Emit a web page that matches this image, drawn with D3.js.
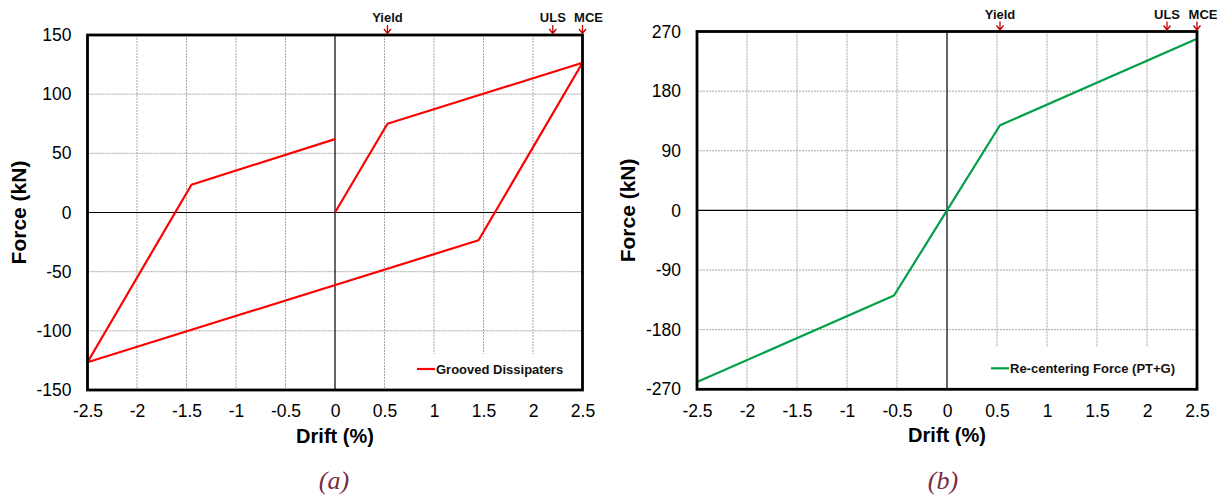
<!DOCTYPE html>
<html>
<head>
<meta charset="utf-8">
<script src="https://cdn.jsdelivr.net/npm/d3@7"></script>
<style>
  html, body { margin: 0; padding: 0; background: #fff; }
  svg { display: block; }
  text { font-family: "Liberation Sans", Arial, sans-serif; }
  text.caption { font-family: "Liberation Serif", "Times New Roman", serif; font-style: italic; }
</style>
</head>
<body>
<svg id="chart" width="1221" height="498"></svg>
<script>
// ---------- data ----------
const driftTicks = [-2.5, -2, -1.5, -1, -0.5, 0, 0.5, 1, 1.5, 2, 2.5];
const forceTicksA = [-150, -100, -50, 0, 50, 100, 150];
const forceTicksB = [-270, -180, -90, 0, 90, 180, 270];

const grooveDrift = [0, 0.53, 2.5, 1.45, -2.5, -1.45, 0];
const grooveForce = [0, 75, 126.5, -23.5, -126.5, 23.5, 62];

const recenterDrift = [-2.5, -0.53, 0, 0.53, 2.5];
const recenterForce = [-259, -128.5, 0, 128.5, 259];

const markerNames = ["Yield", "ULS", "MCE"];
const markerDrift = [0.53, 2.2, 2.5];

const seriesNameA = "Grooved Dissipaters";
const seriesNameB = "Re-centering Force (PT+G)";
const captions = ["(a)", "(b)"];

// ---------- drawing ----------
const svg = d3.select("#chart");

function panel(opts) {
  const { left, right, top, bottom, yTicks, xs, ys, color, name, caption, legendLeft, legendTop } = opts;
  const x = d3.scaleLinear().domain([-2.5, 2.5]).range([left, right]);
  const y = d3.scaleLinear().domain([yTicks[0], yTicks[yTicks.length - 1]]).range([bottom, top]);
  const g = svg.append("g");

  // grid
  g.append("g").selectAll("line").data(driftTicks.filter(d => d !== 0 && Math.abs(d) !== 2.5))
    .join("line")
    .attr("x1", d => x(d)).attr("x2", d => x(d))
    .attr("y1", top).attr("y2", bottom)
    .attr("stroke", "#a6a6a6").attr("stroke-width", 1).attr("stroke-dasharray", "2,1");
  g.append("g").selectAll("line").data(yTicks.filter((d, i) => d !== 0 && i > 0 && i < yTicks.length - 1))
    .join("line")
    .attr("x1", left).attr("x2", right)
    .attr("y1", d => y(d)).attr("y2", d => y(d))
    .attr("stroke", "#a6a6a6").attr("stroke-width", 1).attr("stroke-dasharray", "2,1");

  // legend background (hides grid)
  g.append("rect").attr("x", legendLeft).attr("y", legendTop)
    .attr("width", right - legendLeft).attr("height", bottom - legendTop)
    .attr("fill", "#fff");

  // zero lines
  g.append("line").attr("x1", x(0)).attr("x2", x(0)).attr("y1", top).attr("y2", bottom)
    .attr("stroke", "#000").attr("stroke-width", 1.2);
  g.append("line").attr("x1", left).attr("x2", right).attr("y1", y(0)).attr("y2", y(0))
    .attr("stroke", "#000").attr("stroke-width", 1.2);

  // data line
  const pts = xs.map((d, i) => [d, ys[i]]);
  g.append("path").datum(pts)
    .attr("d", d3.line().x(d => x(d[0])).y(d => y(d[1])))
    .attr("fill", "none").attr("stroke", color).attr("stroke-width", 2.2)
    .attr("stroke-linejoin", "round");

  // frame
  g.append("rect").attr("x", left).attr("y", top)
    .attr("width", right - left).attr("height", bottom - top)
    .attr("fill", "none").attr("stroke", "#000").attr("stroke-width", 2.8);

  // axes via d3
  const yAxis = d3.axisLeft(y).tickValues(yTicks).tickSize(0).tickPadding(16).tickFormat(d => String(d));
  const ya = g.append("g").attr("transform", `translate(${left},0)`).call(yAxis);
  ya.select(".domain").remove();
  ya.selectAll("text").attr("font-size", 17.5).attr("fill", "#000");

  const xAxis = d3.axisBottom(x).tickValues(driftTicks).tickSize(0).tickPadding(15).tickFormat(d => String(d));
  const xa = g.append("g").attr("transform", `translate(0,${bottom})`).call(xAxis);
  xa.select(".domain").remove();
  xa.selectAll("text").attr("font-size", 17.5).attr("fill", "#000");

  // axis titles
  g.append("text").attr("x", x(0)).attr("y", bottom + 53)
    .attr("text-anchor", "middle").attr("font-size", 20).attr("font-weight", "bold")
    .text("Drift (%)");
  g.append("text")
    .attr("transform", `translate(${left - 62},${(top + bottom) / 2}) rotate(-90)`)
    .attr("text-anchor", "middle").attr("font-size", 21).attr("font-weight", "bold")
    .text("Force (kN)");

  // markers (last label nudged right so it does not collide with its neighbour)
  markerNames.forEach((m, i) => {
    const mx = x(markerDrift[i]);
    const shift = i === markerNames.length - 1 ? 6 : 0;
    g.append("text").attr("x", mx + shift).attr("y", top - 13)
      .attr("text-anchor", "middle").attr("font-size", 13).attr("font-weight", "bold")
      .attr("fill", "#111").text(m);
    g.append("path")
      .attr("d", `M${mx},${top - 10}V${top - 1.5}M${mx - 3.5},${top - 6}L${mx},${top - 1.5}L${mx + 3.5},${top - 6}`)
      .attr("fill", "none").attr("stroke", "#c00000").attr("stroke-width", 1.3);
  });

  // legend
  const ly = bottom - 21;
  const lx = opts.legendLineX;
  g.append("line").attr("x1", lx).attr("x2", lx + 18).attr("y1", ly).attr("y2", ly)
    .attr("stroke", color).attr("stroke-width", 2.2);
  g.append("text").attr("x", lx + 19).attr("y", ly + 4.5)
    .attr("font-size", 13).attr("font-weight", "bold").attr("fill", "#111").text(name);

  // caption
  svg.append("text").attr("class", "caption").attr("x", opts.captionX).attr("y", 489)
    .attr("text-anchor", "middle").attr("font-size", 26)
    .attr("fill", "#7b2a42").text(caption);
}

panel({
  left: 87.5, right: 582.5, top: 35, bottom: 390,
  yTicks: forceTicksA, xs: grooveDrift, ys: grooveForce,
  color: "#ff0000", name: seriesNameA, caption: captions[0],
  legendLeft: 405, legendTop: 354, legendLineX: 417, captionX: 334
});
panel({
  left: 697, right: 1197, top: 31.5, bottom: 389.3,
  yTicks: forceTicksB, xs: recenterDrift, ys: recenterForce,
  color: "#00a04a", name: seriesNameB, caption: captions[1],
  legendLeft: 975, legendTop: 347, legendLineX: 991, captionX: 943
});
</script>
</body>
</html>
